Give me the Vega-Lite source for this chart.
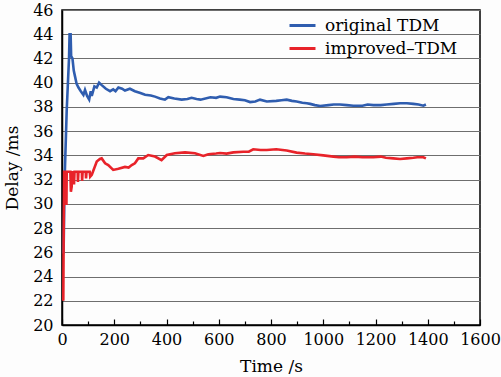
{
  "$schema": "https://vega.github.io/schema/vega-lite/v6.json",
  "autosize": {"type": "none"},
  "width": 418,
  "height": 315,
  "padding": {"left": 62, "top": 10, "right": 21, "bottom": 52},
  "background": "#fdfdfd",
  "config": {
    "view": {"stroke": "#000", "strokeWidth": 1.5},
    "font": "DejaVu Serif"
  },
  "data": {
    "values": [
      {"series": "original TDM", "t": 6, "v": 25.9},
      {"series": "original TDM", "t": 10, "v": 32},
      {"series": "original TDM", "t": 18, "v": 37.7},
      {"series": "original TDM", "t": 27, "v": 42.1},
      {"series": "original TDM", "t": 29, "v": 44.0},
      {"series": "original TDM", "t": 33, "v": 44.0},
      {"series": "original TDM", "t": 35, "v": 42.2},
      {"series": "original TDM", "t": 40, "v": 42.0},
      {"series": "original TDM", "t": 45, "v": 41.0},
      {"series": "original TDM", "t": 50, "v": 40.5},
      {"series": "original TDM", "t": 56, "v": 39.9},
      {"series": "original TDM", "t": 63, "v": 39.6},
      {"series": "original TDM", "t": 72, "v": 39.3},
      {"series": "original TDM", "t": 82, "v": 39.0},
      {"series": "original TDM", "t": 88, "v": 39.4},
      {"series": "original TDM", "t": 96, "v": 38.9},
      {"series": "original TDM", "t": 104, "v": 38.6},
      {"series": "original TDM", "t": 110, "v": 39.3},
      {"series": "original TDM", "t": 114, "v": 38.9},
      {"series": "original TDM", "t": 124, "v": 39.7},
      {"series": "original TDM", "t": 133, "v": 39.6},
      {"series": "original TDM", "t": 142, "v": 40.0},
      {"series": "original TDM", "t": 152, "v": 39.8},
      {"series": "original TDM", "t": 168, "v": 39.5},
      {"series": "original TDM", "t": 184, "v": 39.3},
      {"series": "original TDM", "t": 196, "v": 39.45},
      {"series": "original TDM", "t": 205, "v": 39.3},
      {"series": "original TDM", "t": 216, "v": 39.6},
      {"series": "original TDM", "t": 230, "v": 39.5},
      {"series": "original TDM", "t": 241, "v": 39.35},
      {"series": "original TDM", "t": 260, "v": 39.5},
      {"series": "original TDM", "t": 279, "v": 39.3},
      {"series": "original TDM", "t": 300, "v": 39.15},
      {"series": "original TDM", "t": 318, "v": 39.0},
      {"series": "original TDM", "t": 340, "v": 38.95},
      {"series": "original TDM", "t": 356, "v": 38.85},
      {"series": "original TDM", "t": 375, "v": 38.7},
      {"series": "original TDM", "t": 394, "v": 38.6},
      {"series": "original TDM", "t": 407, "v": 38.8},
      {"series": "original TDM", "t": 430, "v": 38.7},
      {"series": "original TDM", "t": 458, "v": 38.6},
      {"series": "original TDM", "t": 480, "v": 38.65},
      {"series": "original TDM", "t": 496, "v": 38.75},
      {"series": "original TDM", "t": 515, "v": 38.65},
      {"series": "original TDM", "t": 530, "v": 38.6},
      {"series": "original TDM", "t": 568, "v": 38.8},
      {"series": "original TDM", "t": 590, "v": 38.75},
      {"series": "original TDM", "t": 605, "v": 38.85},
      {"series": "original TDM", "t": 630, "v": 38.8},
      {"series": "original TDM", "t": 656, "v": 38.65},
      {"series": "original TDM", "t": 680, "v": 38.6},
      {"series": "original TDM", "t": 700, "v": 38.55},
      {"series": "original TDM", "t": 720, "v": 38.4},
      {"series": "original TDM", "t": 740, "v": 38.45},
      {"series": "original TDM", "t": 758, "v": 38.6},
      {"series": "original TDM", "t": 784, "v": 38.45},
      {"series": "original TDM", "t": 820, "v": 38.5},
      {"series": "original TDM", "t": 840, "v": 38.55},
      {"series": "original TDM", "t": 860, "v": 38.6},
      {"series": "original TDM", "t": 880, "v": 38.5},
      {"series": "original TDM", "t": 898, "v": 38.45},
      {"series": "original TDM", "t": 920, "v": 38.35},
      {"series": "original TDM", "t": 937, "v": 38.3},
      {"series": "original TDM", "t": 950, "v": 38.25},
      {"series": "original TDM", "t": 968, "v": 38.15},
      {"series": "original TDM", "t": 988, "v": 38.08},
      {"series": "original TDM", "t": 1020, "v": 38.15},
      {"series": "original TDM", "t": 1040, "v": 38.2},
      {"series": "original TDM", "t": 1064, "v": 38.2},
      {"series": "original TDM", "t": 1090, "v": 38.15},
      {"series": "original TDM", "t": 1115, "v": 38.1},
      {"series": "original TDM", "t": 1150, "v": 38.1},
      {"series": "original TDM", "t": 1170, "v": 38.2},
      {"series": "original TDM", "t": 1192, "v": 38.15},
      {"series": "original TDM", "t": 1220, "v": 38.15},
      {"series": "original TDM", "t": 1243, "v": 38.2},
      {"series": "original TDM", "t": 1270, "v": 38.25},
      {"series": "original TDM", "t": 1294, "v": 38.3},
      {"series": "original TDM", "t": 1320, "v": 38.3},
      {"series": "original TDM", "t": 1345, "v": 38.25},
      {"series": "original TDM", "t": 1365, "v": 38.2},
      {"series": "original TDM", "t": 1383, "v": 38.1},
      {"series": "original TDM", "t": 1393, "v": 38.2},

      {"series": "improved–TDM", "t": 5, "v": 22.0},
      {"series": "improved–TDM", "t": 6, "v": 26.0},
      {"series": "improved–TDM", "t": 8, "v": 32.65},
      {"series": "improved–TDM", "t": 16, "v": 32.65},
      {"series": "improved–TDM", "t": 17, "v": 29.9},
      {"series": "improved–TDM", "t": 18, "v": 32.65},
      {"series": "improved–TDM", "t": 32, "v": 32.65},
      {"series": "improved–TDM", "t": 34, "v": 31.0},
      {"series": "improved–TDM", "t": 37, "v": 31.4},
      {"series": "improved–TDM", "t": 39, "v": 32.6},
      {"series": "improved–TDM", "t": 45, "v": 32.6},
      {"series": "improved–TDM", "t": 46, "v": 31.6},
      {"series": "improved–TDM", "t": 48, "v": 32.65},
      {"series": "improved–TDM", "t": 60, "v": 32.65},
      {"series": "improved–TDM", "t": 61, "v": 31.8},
      {"series": "improved–TDM", "t": 63, "v": 32.65},
      {"series": "improved–TDM", "t": 76, "v": 32.65},
      {"series": "improved–TDM", "t": 77, "v": 31.9},
      {"series": "improved–TDM", "t": 79, "v": 32.65},
      {"series": "improved–TDM", "t": 91, "v": 32.65},
      {"series": "improved–TDM", "t": 92, "v": 32.1},
      {"series": "improved–TDM", "t": 94, "v": 32.65},
      {"series": "improved–TDM", "t": 106, "v": 32.65},
      {"series": "improved–TDM", "t": 108, "v": 32.25},
      {"series": "improved–TDM", "t": 114, "v": 32.4},
      {"series": "improved–TDM", "t": 133, "v": 33.5},
      {"series": "improved–TDM", "t": 145, "v": 33.7},
      {"series": "improved–TDM", "t": 152, "v": 33.75},
      {"series": "improved–TDM", "t": 165, "v": 33.35},
      {"series": "improved–TDM", "t": 177, "v": 33.2},
      {"series": "improved–TDM", "t": 196, "v": 32.8},
      {"series": "improved–TDM", "t": 216, "v": 32.9},
      {"series": "improved–TDM", "t": 241, "v": 33.05},
      {"series": "improved–TDM", "t": 255, "v": 33.0},
      {"series": "improved–TDM", "t": 267, "v": 33.2},
      {"series": "improved–TDM", "t": 279, "v": 33.35},
      {"series": "improved–TDM", "t": 292, "v": 33.75},
      {"series": "improved–TDM", "t": 311, "v": 33.75},
      {"series": "improved–TDM", "t": 330, "v": 34.03},
      {"series": "improved–TDM", "t": 356, "v": 33.9},
      {"series": "improved–TDM", "t": 381, "v": 33.6},
      {"series": "improved–TDM", "t": 401, "v": 34.03},
      {"series": "improved–TDM", "t": 432, "v": 34.17},
      {"series": "improved–TDM", "t": 471, "v": 34.25},
      {"series": "improved–TDM", "t": 509, "v": 34.17},
      {"series": "improved–TDM", "t": 541, "v": 33.95},
      {"series": "improved–TDM", "t": 560, "v": 34.1},
      {"series": "improved–TDM", "t": 590, "v": 34.15},
      {"series": "improved–TDM", "t": 605, "v": 34.2},
      {"series": "improved–TDM", "t": 630, "v": 34.15},
      {"series": "improved–TDM", "t": 656, "v": 34.25},
      {"series": "improved–TDM", "t": 694, "v": 34.3},
      {"series": "improved–TDM", "t": 715, "v": 34.3},
      {"series": "improved–TDM", "t": 732, "v": 34.5},
      {"series": "improved–TDM", "t": 760, "v": 34.45},
      {"series": "improved–TDM", "t": 784, "v": 34.45},
      {"series": "improved–TDM", "t": 820, "v": 34.5},
      {"series": "improved–TDM", "t": 860, "v": 34.4},
      {"series": "improved–TDM", "t": 898, "v": 34.23},
      {"series": "improved–TDM", "t": 930, "v": 34.15},
      {"series": "improved–TDM", "t": 962, "v": 34.1},
      {"series": "improved–TDM", "t": 1000, "v": 34.0},
      {"series": "improved–TDM", "t": 1039, "v": 33.9},
      {"series": "improved–TDM", "t": 1060, "v": 33.85},
      {"series": "improved–TDM", "t": 1090, "v": 33.85},
      {"series": "improved–TDM", "t": 1120, "v": 33.9},
      {"series": "improved–TDM", "t": 1150, "v": 33.85},
      {"series": "improved–TDM", "t": 1192, "v": 33.85},
      {"series": "improved–TDM", "t": 1220, "v": 33.9},
      {"series": "improved–TDM", "t": 1240, "v": 33.8},
      {"series": "improved–TDM", "t": 1268, "v": 33.75},
      {"series": "improved–TDM", "t": 1294, "v": 33.7},
      {"series": "improved–TDM", "t": 1320, "v": 33.75},
      {"series": "improved–TDM", "t": 1345, "v": 33.8},
      {"series": "improved–TDM", "t": 1360, "v": 33.85},
      {"series": "improved–TDM", "t": 1383, "v": 33.85},
      {"series": "improved–TDM", "t": 1393, "v": 33.75}
    ]
  },
  "mark": {"type": "line", "strokeWidth": 2.6, "clip": true},
  "encoding": {
    "x": {
      "field": "t",
      "type": "quantitative",
      "scale": {"domain": [0, 1600], "nice": false, "zero": false},
      "axis": {
        "values": [0, 100, 200, 300, 400, 500, 600, 700, 800, 900, 1000, 1100, 1200, 1300, 1400, 1500, 1600],
        "labelExpr": "datum.value % 200 === 0 ? format(datum.value, 'd') : ''",
        "grid": false,
        "domainColor": "#000",
        "domainWidth": 1.5,
        "tickColor": "#000",
        "tickWidth": 1.2,
        "tickSize": {"condition": {"test": "datum.value % 200 === 0", "value": -6}, "value": -4},
        "labelPadding": 12,
        "labelFont": "DejaVu Serif",
        "labelFontSize": 16,
        "labelColor": "#000",
        "labelFlush": false,
        "labelOverlap": false,
        "title": "Time /s",
        "titleFont": "DejaVu Serif",
        "titleFontSize": 17,
        "titleFontWeight": "normal",
        "titleColor": "#000",
        "titlePadding": 9
      }
    },
    "y": {
      "field": "v",
      "type": "quantitative",
      "scale": {"domain": [20, 46], "nice": false, "zero": false},
      "axis": {
        "values": [20, 22, 24, 26, 28, 30, 32, 34, 36, 38, 40, 42, 44, 46],
        "grid": true,
        "gridColor": "#6e6e6e",
        "gridWidth": 1.2,
        "ticks": false,
        "domainColor": "#000",
        "domainWidth": 1.5,
        "labelPadding": 9,
        "labelFont": "DejaVu Serif",
        "labelFontSize": 16,
        "labelColor": "#000",
        "labelFlush": false,
        "labelOverlap": false,
        "title": "Delay /ms",
        "titleFont": "DejaVu Serif",
        "titleFontSize": 17,
        "titleFontWeight": "normal",
        "titleColor": "#000",
        "titlePadding": 11
      }
    },
    "color": {
      "field": "series",
      "type": "nominal",
      "scale": {"domain": ["original TDM", "improved–TDM"], "range": ["#2F5DAF", "#E8232A"]},
      "legend": {
        "orient": "none",
        "legendX": 226,
        "legendY": 1,
        "title": null,
        "symbolType": "stroke",
        "symbolSize": 676,
        "symbolStrokeWidth": 3,
        "labelFont": "DejaVu Serif",
        "labelFontSize": 17,
        "labelColor": "#000",
        "labelOffset": 8,
        "rowPadding": -1,
        "padding": 0
      }
    }
  }
}
